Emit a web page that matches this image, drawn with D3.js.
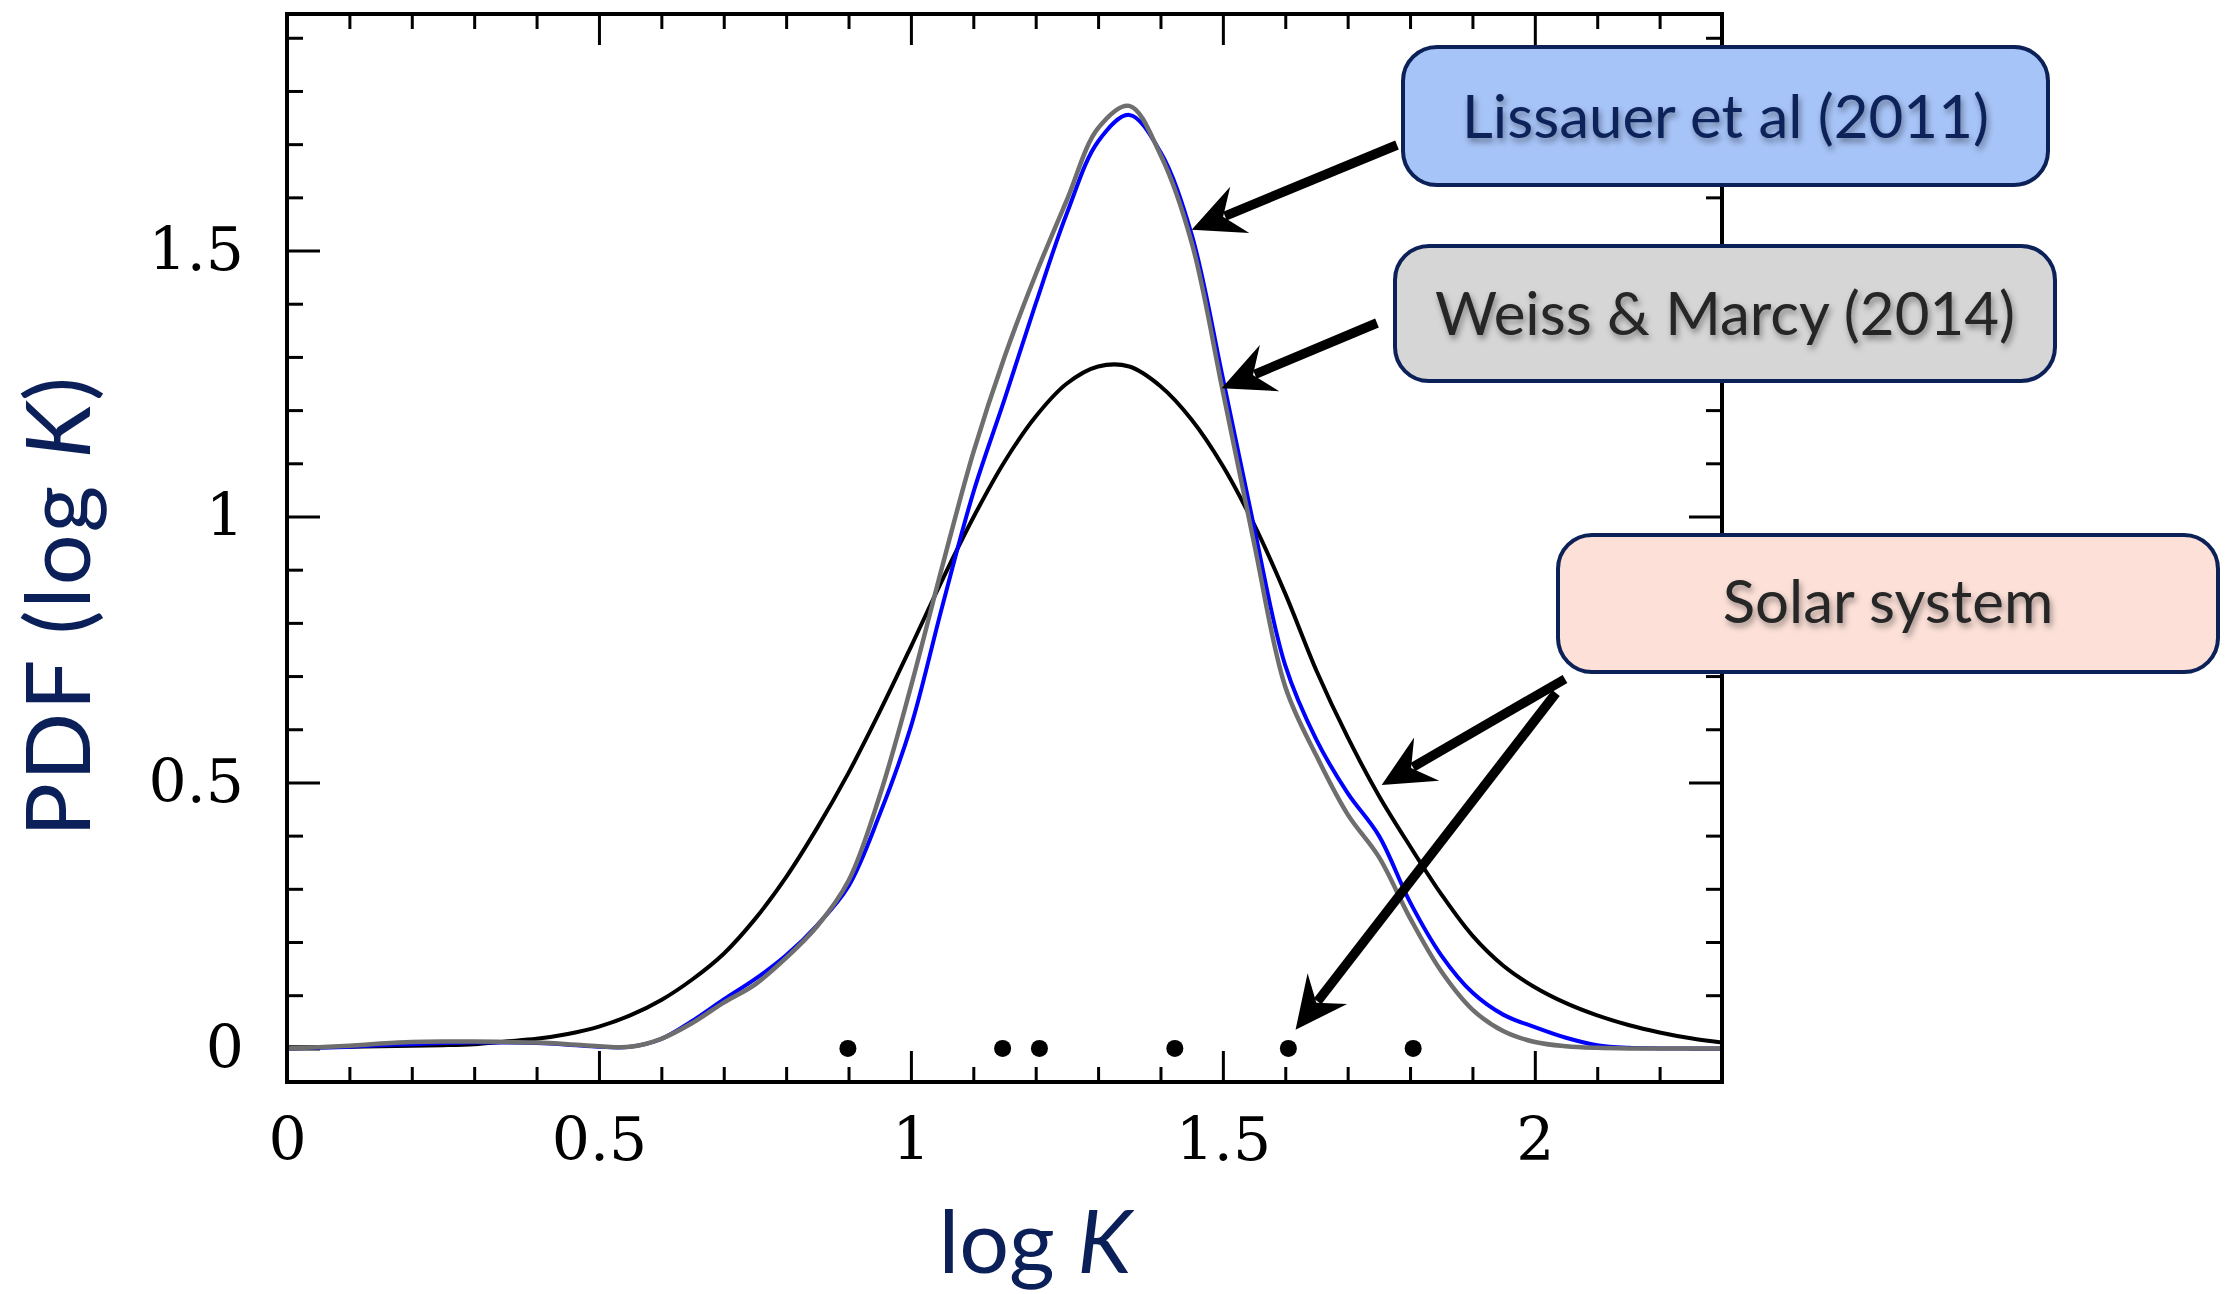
<!DOCTYPE html>
<html>
<head>
<meta charset="utf-8">
<script src="https://cdn.jsdelivr.net/npm/d3@7"></script>
<style>
  html, body { margin: 0; padding: 0; background: #fff; }
  svg { display: block; }
</style>
</head>
<body>
<svg id="chart" width="2227" height="1294"></svg>
<script>
// ---------- data ----------
const logK = [0, 0.05, 0.1, 0.15, 0.2, 0.25, 0.3, 0.35, 0.4, 0.45, 0.5, 0.55, 0.6, 0.65, 0.7, 0.75, 0.8, 0.85, 0.9, 0.95,
  1.0, 1.05, 1.1, 1.15, 1.2, 1.25, 1.3, 1.35, 1.4, 1.45, 1.5, 1.55, 1.6, 1.65, 1.7, 1.75, 1.8, 1.85, 1.9, 1.95,
  2.0, 2.05, 2.1, 2.15, 2.2, 2.25, 2.3];

const solarPDF = [0.002, 0.002, 0.003, 0.004, 0.005, 0.006, 0.008, 0.013, 0.018, 0.027, 0.041, 0.062, 0.091, 0.130, 0.178, 0.243, 0.322, 0.415, 0.518, 0.633,
  0.755, 0.880, 0.998, 1.103, 1.188, 1.250, 1.282, 1.282, 1.245, 1.182, 1.095, 0.985, 0.855, 0.710, 0.585, 0.475, 0.380, 0.290, 0.212, 0.155,
  0.115, 0.085, 0.062, 0.044, 0.030, 0.019, 0.011];

const lissauerPDF = [0.000, 0.001, 0.003, 0.006, 0.008, 0.010, 0.011, 0.011, 0.010, 0.007, 0.003, 0.003, 0.018, 0.052, 0.092, 0.130, 0.175, 0.232, 0.305, 0.440,
  0.605, 0.830, 1.045, 1.220, 1.400, 1.570, 1.705, 1.755, 1.685, 1.530, 1.260, 0.980, 0.720, 0.580, 0.480, 0.400, 0.275, 0.175, 0.105, 0.063,
  0.040, 0.020, 0.006, 0.001, 0, 0, 0];

const weissPDF = [0.000, 0.002, 0.005, 0.009, 0.012, 0.013, 0.013, 0.012, 0.011, 0.008, 0.004, 0.003, 0.018, 0.048, 0.086, 0.120, 0.170, 0.230, 0.315, 0.475,
  0.680, 0.905, 1.120, 1.300, 1.455, 1.595, 1.730, 1.772, 1.680, 1.515, 1.235, 0.950, 0.680, 0.550, 0.440, 0.360, 0.245, 0.145, 0.073, 0.032,
  0.012, 0.004, 0.001, 0, 0, 0, 0];

const solarDots = [0.899, 1.147, 1.206, 1.423, 1.605, 1.805];

const xMajorTicks = [0, 0.5, 1, 1.5, 2];
const xMinorTicks = [0.1, 0.2, 0.3, 0.4, 0.6, 0.7, 0.8, 0.9, 1.1, 1.2, 1.3, 1.4, 1.6, 1.7, 1.8, 1.9, 2.1, 2.2];
const yMajorTicks = [0, 0.5, 1, 1.5];
const yMinorTicks = [0.1, 0.2, 0.3, 0.4, 0.6, 0.7, 0.8, 0.9, 1.1, 1.2, 1.3, 1.4, 1.6, 1.7, 1.8, 1.9];
const xTickLabels = ["0", "0.5", "1", "1.5", "2"];
const yTickLabels = ["0", "0.5", "1", "1.5"];

const boxLabels = ["Lissauer et al (2011)", "Weiss & Marcy (2014)", "Solar system"];

// ---------- layout ----------
const plot = { left: 287, right: 1722, top: 14, bottom: 1082 };
const svg = d3.select("#chart");

const x = d3.scaleLinear().domain([0, 2.3]).range([plot.left, plot.right]);
const y = d3.scaleLinear().domain([-0.0632, 1.9447]).range([plot.bottom, plot.top]);

const defs = svg.append("defs");
defs.append("clipPath").attr("id", "clip").append("rect")
  .attr("x", plot.left).attr("y", plot.top)
  .attr("width", plot.right - plot.left).attr("height", plot.bottom - plot.top);
const shadow = defs.append("filter").attr("id", "tshadow")
  .attr("x", "-10%").attr("y", "-30%").attr("width", "120%").attr("height", "160%");
shadow.append("feDropShadow").attr("dx", 2).attr("dy", 4).attr("stdDeviation", 3)
  .attr("flood-color", "#000").attr("flood-opacity", 0.4);

// ---------- axes (ticks drawn under curves) ----------
const tickFont = "'DejaVu Serif', serif";
function styleAxis(g) {
  g.select(".domain").remove();
  g.selectAll(".tick line").attr("stroke", "#000").attr("stroke-width", 3);
  g.selectAll(".tick text").attr("fill", "#000").style("font-family", tickFont).style("font-size", "60px");
}
// minor ticks
svg.append("g").attr("transform", `translate(0,${plot.bottom})`)
  .call(d3.axisBottom(x).tickValues(xMinorTicks).tickSize(-15).tickFormat("")).call(styleAxis);
svg.append("g").attr("transform", `translate(0,${plot.top})`)
  .call(d3.axisTop(x).tickValues(xMinorTicks).tickSize(-15).tickFormat("")).call(styleAxis);
svg.append("g").attr("transform", `translate(${plot.left},0)`)
  .call(d3.axisLeft(y).tickValues(yMinorTicks).tickSize(-16).tickFormat("")).call(styleAxis);
svg.append("g").attr("transform", `translate(${plot.right},0)`)
  .call(d3.axisRight(y).tickValues(yMinorTicks).tickSize(-16).tickFormat("")).call(styleAxis);
// major ticks
svg.append("g").attr("transform", `translate(0,${plot.bottom})`)
  .call(d3.axisBottom(x).tickValues(xMajorTicks).tickSize(-31).tickPadding(35)
    .tickFormat((d, i) => xTickLabels[i])).call(styleAxis);
svg.append("g").attr("transform", `translate(0,${plot.top})`)
  .call(d3.axisTop(x).tickValues(xMajorTicks).tickSize(-31).tickFormat("")).call(styleAxis);
svg.append("g").attr("transform", `translate(${plot.left},0)`)
  .call(d3.axisLeft(y).tickValues(yMajorTicks).tickSize(-33).tickPadding(43)
    .tickFormat((d, i) => yTickLabels[i])).call(styleAxis);
svg.append("g").attr("transform", `translate(${plot.right},0)`)
  .call(d3.axisRight(y).tickValues(yMajorTicks).tickSize(-33).tickFormat("")).call(styleAxis);

// ---------- curves ----------
const line = d3.line().x((d, i) => x(logK[i])).y(d => y(d)).curve(d3.curveCatmullRom.alpha(0.5));
const curves = svg.append("g").attr("clip-path", "url(#clip)");
curves.append("path").datum(solarPDF).attr("d", line)
  .attr("fill", "none").attr("stroke", "#000").attr("stroke-width", 4);
curves.append("path").datum(lissauerPDF).attr("d", line)
  .attr("fill", "none").attr("stroke", "#0000ff").attr("stroke-width", 4);
curves.append("path").datum(weissPDF).attr("d", line)
  .attr("fill", "none").attr("stroke", "#6e6e6e").attr("stroke-width", 4.5);

// solar-system dots
svg.append("g").selectAll("circle").data(solarDots).join("circle")
  .attr("cx", d => x(d)).attr("cy", y(0)).attr("r", 8.5).attr("fill", "#000");

// frame
svg.append("rect").attr("x", plot.left).attr("y", plot.top)
  .attr("width", plot.right - plot.left).attr("height", plot.bottom - plot.top)
  .attr("fill", "none").attr("stroke", "#000").attr("stroke-width", 4);

// ---------- axis titles ----------
const titleFont = "Lato, 'Open Sans', sans-serif";
const navy = "#0b1f58";
const xt = svg.append("text").attr("x", 1035).attr("y", 1273).attr("text-anchor", "middle")
  .attr("fill", navy).style("font-family", titleFont).style("font-size", "88px");
xt.append("tspan").text("log ");
xt.append("tspan").style("font-style", "italic").text("K");

const yt = svg.append("text").attr("transform", "translate(90,606) rotate(-90)").attr("text-anchor", "middle")
  .attr("fill", navy).style("font-family", titleFont).style("font-size", "90px").style("letter-spacing", "2px");
yt.append("tspan").text("PDF (log ");
yt.append("tspan").style("font-style", "italic").text("K");
yt.append("tspan").text(")");

// ---------- annotation boxes ----------
const boxes = [
  { label: boxLabels[0], x0: 1403, y0: 47, x1: 2048, y1: 185, fill: "#a7c4f8", color: "#0b2158", ty: 138 },
  { label: boxLabels[1], x0: 1395, y0: 246, x1: 2055, y1: 381, fill: "#d6d6d6", color: "#262626", ty: 335 },
  { label: boxLabels[2], x0: 1558, y0: 535, x1: 2218, y1: 672, fill: "#fde1d8", color: "#262626", ty: 623 }
];
const bg = svg.append("g");
boxes.forEach(b => {
  bg.append("rect").attr("x", b.x0).attr("y", b.y0).attr("width", b.x1 - b.x0).attr("height", b.y1 - b.y0)
    .attr("rx", 34).attr("ry", 34).attr("fill", b.fill).attr("stroke", "#0b2158").attr("stroke-width", 4);
  bg.append("text").attr("x", (b.x0 + b.x1) / 2).attr("y", b.ty).attr("text-anchor", "middle")
    .attr("fill", b.color).attr("filter", "url(#tshadow)")
    .style("font-family", titleFont).style("font-size", "60px").text(b.label);
});

// ---------- arrows (tips anchored in data coordinates) ----------
const arrows = [
  { from: [1397, 145], tip: [1.450, 1.539] },
  { from: [1377, 323], tip: [1.498, 1.241] },
  { from: [1565, 679], tip: [1.7545, 0.495] },
  { from: [1556, 693], tip: [1.6165, 0.035] }
];
const ag = svg.append("g");
arrows.forEach(a => {
  const tx = x(a.tip[0]), ty = y(a.tip[1]);
  const dx = a.from[0] - tx, dy = a.from[1] - ty;
  const len = Math.hypot(dx, dy);
  const ux = dx / len, uy = dy / len;
  const nx = -uy, ny = ux;
  const L = 52, Wd = 25, N = 34;
  ag.append("line").attr("x1", a.from[0]).attr("y1", a.from[1])
    .attr("x2", tx + ux * (N + 2)).attr("y2", ty + uy * (N + 2))
    .attr("stroke", "#000").attr("stroke-width", 9.5);
  const pts = [
    [tx, ty],
    [tx + ux * L + nx * Wd, ty + uy * L + ny * Wd],
    [tx + ux * N, ty + uy * N],
    [tx + ux * L - nx * Wd, ty + uy * L - ny * Wd]
  ];
  ag.append("path").attr("d", "M" + pts.map(p => p.join(",")).join("L") + "Z").attr("fill", "#000");
});
</script>
</body>
</html>
